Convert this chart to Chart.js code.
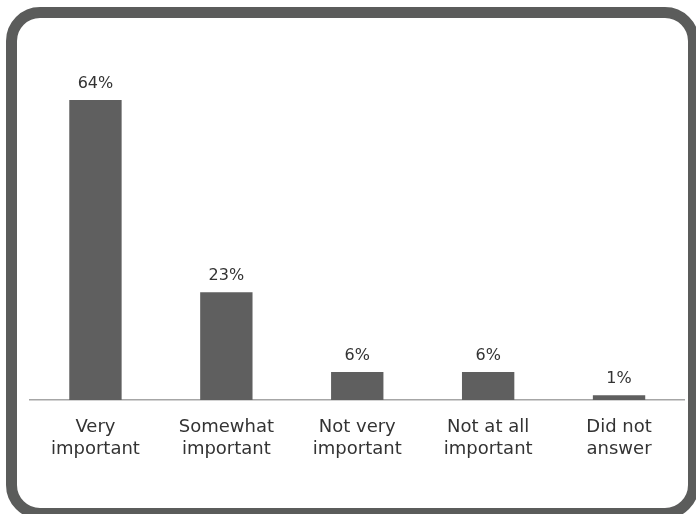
<!DOCTYPE html>
<html>
<head>
<meta charset="utf-8">
<script src="https://cdn.jsdelivr.net/npm/chart.js@4.4.1/dist/chart.umd.min.js"></script>
<style>
  html, body { margin: 0; padding: 0; background: #fff; overflow: hidden; }
  #wrap { position: relative; width: 696px; height: 514px; overflow: hidden; }
  #frame {
    position: absolute; left: 6px; top: 7px;
    width: 693px; height: 512px;
    border: 11px solid #5b5c5b; border-radius: 34px;
    box-sizing: border-box;
  }
  canvas { position: absolute; left: 0; top: 0; }
</style>
</head>
<body>
<div id="wrap">
  <div id="frame"></div>
  <canvas id="chart" width="696" height="514"></canvas>
</div>
<script>
const categories = [
  ['Very', 'important'],
  ['Somewhat', 'important'],
  ['Not very', 'important'],
  ['Not at all', 'important'],
  ['Did not', 'answer']
];
const shares = [64, 23, 6, 6, 1];

const FONT = "'DejaVu Sans', sans-serif";

// value labels above each bar
const barLabels = {
  id: 'barLabels',
  afterDatasetsDraw(chart) {
    const ctx = chart.ctx;
    const meta = chart.getDatasetMeta(0);
    ctx.save();
    ctx.fillStyle = '#333';
    ctx.font = '16px ' + FONT;
    ctx.textAlign = 'center';
    ctx.textBaseline = 'alphabetic';
    meta.data.forEach((bar, i) => {
      ctx.fillText(shares[i] + '%', bar.x, bar.y - 12);
    });
    ctx.restore();
  }
};

new Chart(document.getElementById('chart'), {
  type: 'bar',
  data: {
    labels: categories,
    datasets: [{
      data: shares,
      backgroundColor: '#5f5f5f',
      borderWidth: 0,
      categoryPercentage: 1,
      barPercentage: 0.4
    }]
  },
  options: {
    responsive: false,
    animation: false,
    layout: { padding: { left: 30, right: 11.5, top: 72, bottom: 0 } },
    plugins: {
      legend: { display: false },
      tooltip: { enabled: false }
    },
    scales: {
      x: {
        grid: { display: false },
        border: { display: true, color: '#a6a6a6', width: 1.5 },
        ticks: {
          color: '#333',
          font: { size: 18, family: FONT, lineHeight: 1.22 },
          padding: 8,
          maxRotation: 0,
          autoSkip: false
        },
        afterFit(scale) { scale.height = 114; }
      },
      y: {
        display: false,
        min: 0,
        max: 70
      }
    }
  },
  plugins: [barLabels]
});
</script>
</body>
</html>
